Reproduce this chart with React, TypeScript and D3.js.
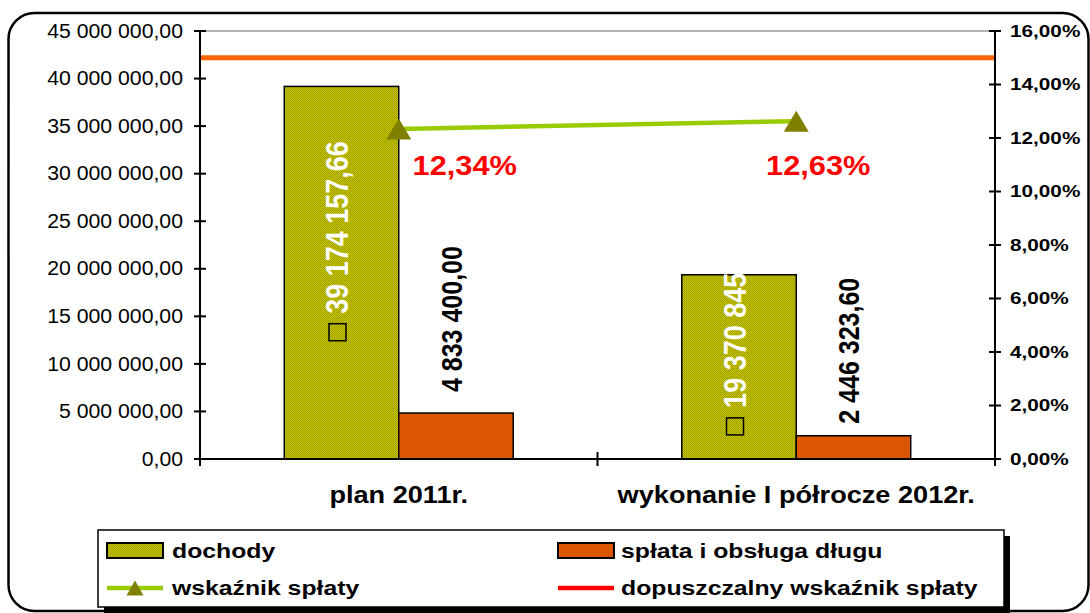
import React from "react";
import * as d3 from "d3";

const categories = ["plan 2011r.", "wykonanie I półrocze 2012r."];
const dochody = [39174157.66, 19370845];
const dochodyLabels = ["39 174 157,66", "19 370 845"];
const splata = [4833400.0, 2446323.6];
const wskaznik = [0.1234, 0.1263];
const dopuszczalny = 0.15;
const leftTicks = [0, 5e6, 10e6, 15e6, 20e6, 25e6, 30e6, 35e6, 40e6, 45e6];
const rightTicks = [0, 0.02, 0.04, 0.06, 0.08, 0.1, 0.12, 0.14, 0.16];
const legendItems = ["dochody", "spłata i obsługa długu", "wskaźnik spłaty", "dopuszczalny wskaźnik spłaty"];

const W = 1090;
const H = 613;
const FONT = "'Liberation Sans', Arial, sans-serif";
const OLIVE = "#B3B300";
const ORANGE = "#DD5500";
const GREEN = "#99CC00";
const MARKER = "#808000";

const loc = d3.formatLocale({ decimal: ",", thousands: " ", grouping: [3], currency: ["", ""] });
const fmtNum = loc.format(",.2f");
const fmtPct = loc.format(".2%");

function T({ x, y, sx = 1.15, rot = 0, children, ...rest }: any) {
  return (
    <text
      transform={`translate(${x},${y}) scale(${sx},1)${rot ? ` rotate(${rot})` : ""}`}
      fontFamily={FONT}
      {...rest}
    >
      {children}
    </text>
  );
}

function tri(cx: number, cy: number, w: number, h: number) {
  return `M${cx},${cy - h / 2}L${cx + w / 2},${cy + h / 2}L${cx - w / 2},${cy + h / 2}Z`;
}

export default function App() {
  const left = 200, right = 995, top = 31, bottom = 459;
  const x = d3.scaleBand<string>().domain(categories).range([left, right]);
  const y = d3.scaleLinear().domain([0, 45e6]).range([bottom, top]);
  const yR = d3.scaleLinear().domain([0, 0.16]).range([bottom, top]);
  const bw = x.bandwidth() * 0.288;
  const cx = (c: string) => (x(c) as number) + x.bandwidth() / 2;

  const line = d3.line<number>().x((_, i) => cx(categories[i])).y((d) => yR(d));
  const pctLabelNudge = [66, 22];
  const blackLabelGap = [21, 12];

  return (
    <svg width={W} height={H} style={{ position: "absolute", left: 0, top: 0, background: "#fff" }}>
      <defs>
        <pattern id="olivePat" width="2" height="2" patternUnits="userSpaceOnUse">
          <rect width="2" height="2" fill="#C2C200" />
          <rect width="1" height="1" fill="#9E9E00" />
          <rect x="1" y="1" width="1" height="1" fill="#A8A800" />
        </pattern>
        <pattern id="orangePat" width="2" height="2" patternUnits="userSpaceOnUse">
          <rect width="2" height="2" fill="#E05A00" />
          <rect width="1" height="1" fill="#CC4C00" />
        </pattern>
      </defs>
      {/* outer frame */}
      <rect x={8.5} y={13} width={1080} height={598} rx={26} ry={26} fill="none" stroke="#000" strokeWidth={2.5} />

      {/* plot border top */}
      <line x1={left} x2={right} y1={top} y2={top} stroke="#999" strokeWidth={1.5} />

      {/* bars */}
      {categories.map((c, i) => (
        <g key={c}>
          <rect x={cx(c) - bw} y={y(dochody[i])} width={bw} height={bottom - y(dochody[i])} fill="url(#olivePat)" stroke="#000" strokeWidth={1.5} />
          <rect x={cx(c)} y={y(splata[i])} width={bw} height={bottom - y(splata[i])} fill="url(#orangePat)" stroke="#000" strokeWidth={1.5} />
        </g>
      ))}

      {/* allowed ratio line */}
      <line x1={left} x2={right} y1={yR(dopuszczalny)} y2={yR(dopuszczalny)} stroke="#FF6600" strokeWidth={5} />

      {/* ratio line */}
      <path d={line(wskaznik) || ""} fill="none" stroke={GREEN} strokeWidth={4.5} />
      {wskaznik.map((v, i) => (
        <path key={i} d={tri(cx(categories[i]), yR(v), 25, 21)} fill={MARKER} />
      ))}

      {/* axes */}
      <line x1={left} x2={left} y1={top} y2={bottom + 7} stroke="#000" strokeWidth={2} />
      <line x1={right} x2={right} y1={top} y2={bottom + 7} stroke="#000" strokeWidth={2} />
      <line x1={left} x2={right} y1={bottom} y2={bottom} stroke="#000" strokeWidth={2} />
      {[left, (left + right) / 2, right].map((t, i) => (
        <line key={i} x1={t} x2={t} y1={bottom - 7} y2={bottom + 7} stroke="#000" strokeWidth={2} />
      ))}
      {leftTicks.map((t) => (
        <g key={t}>
          <line x1={left - 6} x2={left + 6} y1={y(t)} y2={y(t)} stroke="#000" strokeWidth={2} />
          <T x={183} y={y(t)} sx={1.09} fontSize={19.5} textAnchor="end" dominantBaseline="central" fill="#000">
            {fmtNum(t)}
          </T>
        </g>
      ))}
      {rightTicks.map((t) => (
        <g key={t}>
          <line x1={right - 6} x2={right + 6} y1={yR(t)} y2={yR(t)} stroke="#000" strokeWidth={2} />
          <T x={1010} y={yR(t)} sx={1.22} fontSize={17} fontWeight="bold" dominantBaseline="central" fill="#000">
            {fmtPct(t)}
          </T>
        </g>
      ))}

      {/* category labels */}
      {categories.map((c) => (
        <T key={c} x={cx(c)} y={503} sx={1.18} fontSize={23} fontWeight="bold" textAnchor="middle" fill="#000">
          {c}
        </T>
      ))}

      {/* bar value labels */}
      {categories.map((c, i) => {
        const bx = cx(c) - bw / 2 - 4;
        const mid = (y(dochody[i]) + bottom) / 2;
        const ox = cx(c) + bw / 2 - 4;
        return (
          <g key={"lab" + c}>
            <rect x={bx - 8.5} y={mid + 51} width={17} height={17} fill="none" stroke="#000" strokeWidth={1.5} />
            <T x={bx} y={mid + 41} sx={1.15} rot={-90} fontSize={27} fontWeight="bold" fill="#fff" dominantBaseline="central">
              {dochodyLabels[i]}
            </T>
            <T x={ox} y={y(splata[i]) - blackLabelGap[i]} sx={1.15} rot={-90} fontSize={25} fontWeight="bold" fill="#000" dominantBaseline="central">
              {fmtNum(splata[i])}
            </T>
          </g>
        );
      })}

      {/* percentage labels */}
      {wskaznik.map((v, i) => (
        <T key={"p" + i} x={cx(categories[i]) + pctLabelNudge[i]} y={175} sx={1.1} fontSize={28} fontWeight="bold" fill="#FF0000" textAnchor="middle">
          {fmtPct(v)}
        </T>
      ))}

      {/* legend */}
      <rect x={104} y={536} width={906} height={77} fill="#000" />
      <rect x={98} y={530} width={906} height={77} fill="#fff" stroke="#000" strokeWidth={1.5} />
      <rect x={107} y={543} width={56} height={15} fill="url(#olivePat)" stroke="#000" strokeWidth={2} />
      <T x={172} y={558} sx={1.18} fontSize={21} fontWeight="bold">{legendItems[0]}</T>
      <rect x={558} y={543} width={56} height={15} fill="url(#orangePat)" stroke="#000" strokeWidth={2} />
      <T x={621} y={558} sx={1.18} fontSize={21} fontWeight="bold">{legendItems[1]}</T>
      <line x1={107} x2={163} y1={588} y2={588} stroke={GREEN} strokeWidth={4.5} />
      <path d={tri(135, 588, 17, 15)} fill={MARKER} />
      <T x={172} y={595} sx={1.18} fontSize={21} fontWeight="bold">{legendItems[2]}</T>
      <line x1={558} x2={614} y1={588} y2={588} stroke="#FF0000" strokeWidth={4.5} />
      <T x={621} y={595} sx={1.18} fontSize={21} fontWeight="bold">{legendItems[3]}</T>
    </svg>
  );
}
